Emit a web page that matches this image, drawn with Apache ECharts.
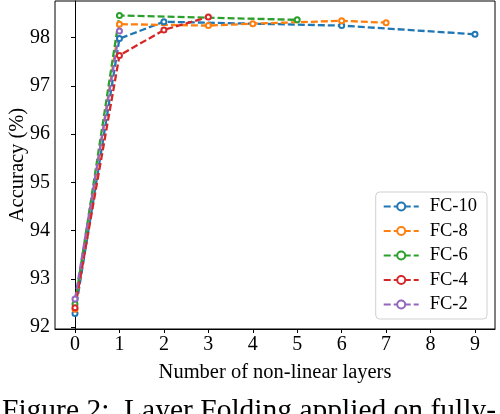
<!DOCTYPE html>
<html>
<head>
    <meta charset="utf-8">
    <title>Layer Folding FC</title>
    <style>
        html, body { margin: 0; padding: 0; background: #fff; }
    </style>
</head>
<body>
    <div id="main" style="width: 500px; height: 414px;"></div>
    <script src="https://cdn.jsdelivr.net/npm/echarts@6/dist/echarts.min.js"></script>
    <script type="text/javascript">
        // accuracy (%) vs number of non-linear layers
        var fc10 = [[0, 92.28], [1, 97.98], [2, 98.33], [6, 98.25], [9, 98.07]];
        var fc8 = [[0, 92.37], [1, 98.28], [3, 98.25], [4, 98.29], [6, 98.35], [7, 98.31]];
        var fc6 = [[0, 92.48], [1, 98.46], [5, 98.37]];
        var fc4 = [[0, 92.40], [1, 97.63], [2, 98.16], [3, 98.43]];
        var fc2 = [[0, 92.58], [1, 98.14]];
        var names = ['FC-10', 'FC-8', 'FC-6', 'FC-4', 'FC-2'];
        var colors = ['#1f77b4', '#ff7f0e', '#2ca02c', '#d62728', '#9467bd'];
        var xTicks = [0, 1, 2, 3, 4, 5, 6, 7, 8, 9];
        var yTicks = [92, 93, 94, 95, 96, 97, 98];

        var font = 'Liberation Serif';
        var chartDom = document.getElementById('main');
        var myChart = echarts.init(chartDom);

        function mkSeries(name, data, color) {
            return {
                name: name,
                type: 'line',
                data: data,
                symbol: 'emptyCircle',
                symbolSize: 5,
                showAllSymbol: true,
                color: color,
                lineStyle: { width: 2.3, type: [7, 3], color: color },
                itemStyle: { color: color, borderWidth: 1.5 },
                emphasis: { disabled: true },
                animation: false
            };
        }

        var option = {
            animation: false,
            grid: {
                left: 55, right: 5, top: 1, bottom: 85,
                outerBoundsMode: 'none',
                containLabel: false,
                show: true, borderColor: '#000', borderWidth: 1
            },
            legend: {
                data: names,
                orient: 'vertical',
                right: 13,
                top: 192,
                itemWidth: 35,
                itemHeight: 10,
                itemGap: 5.5,
                padding: [5, 10, 5, 7],
                backgroundColor: '#fff',
                borderColor: '#d0d0d0',
                borderWidth: 1,
                borderRadius: 4,
                textStyle: { fontFamily: font, fontSize: 18.5, color: '#000', padding: [0, 0, 0, 6] }
            },
            xAxis: {
                type: 'value',
                min: -0.45,
                max: 9.45,
                name: 'Number of non-linear layers',
                nameLocation: 'middle',
                nameGap: 33,
                nameMoveOverlap: false,
                nameTextStyle: { fontFamily: font, fontSize: 20.5, color: '#000' },
                splitLine: { show: false },
                axisLine: { show: true, lineStyle: { color: '#000', width: 1 } },
                axisTick: { show: true, length: 4, customValues: xTicks, lineStyle: { color: '#000' } },
                axisLabel: { customValues: xTicks, fontFamily: font, fontSize: 20, color: '#000', margin: 6 }
            },
            yAxis: {
                type: 'value',
                min: 91.96,
                max: 98.76,
                name: 'Accuracy (%)',
                nameLocation: 'middle',
                nameGap: 27,
                nameMoveOverlap: false,
                nameTextStyle: { fontFamily: font, fontSize: 20.5, color: '#000' },
                splitLine: { show: false },
                axisLine: { show: true, lineStyle: { color: '#000', width: 1 } },
                axisTick: { show: true, length: 4, customValues: yTicks, lineStyle: { color: '#000' } },
                axisLabel: { customValues: yTicks, fontFamily: font, fontSize: 20, color: '#000', margin: 5 }
            },
            graphic: [{
                type: 'text',
                left: 2,
                top: 396,
                style: {
                    text: 'Figure 2:  Layer Folding applied on fully-',
                    fontFamily: font,
                    fontSize: 29.5,
                    fill: '#000'
                }
            }],
            series: [
                mkSeries(names[0], fc10, colors[0]),
                mkSeries(names[1], fc8, colors[1]),
                mkSeries(names[2], fc6, colors[2]),
                mkSeries(names[3], fc4, colors[3]),
                mkSeries(names[4], fc2, colors[4])
            ]
        };

        myChart.setOption(option);
    </script>
</body>
</html>
